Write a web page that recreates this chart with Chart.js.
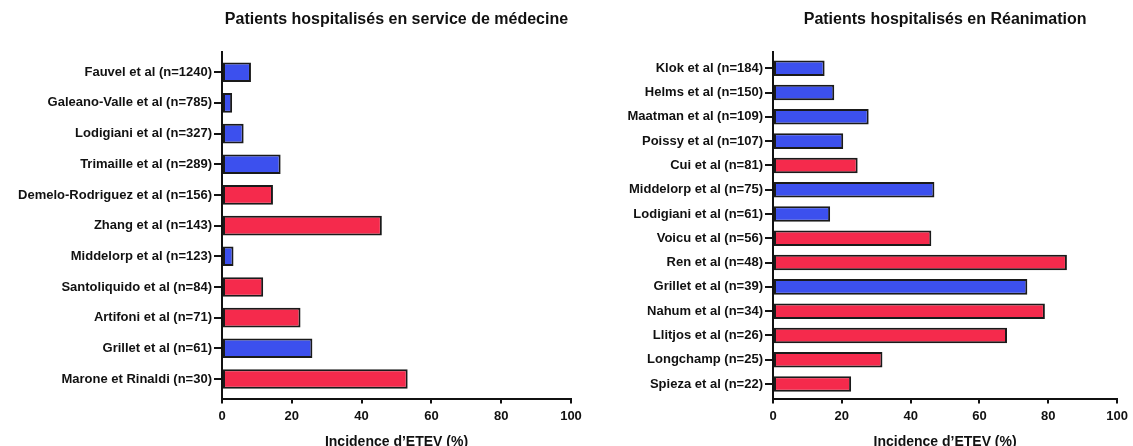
<!DOCTYPE html>
<html>
<head>
<meta charset="utf-8">
<script src="https://cdn.jsdelivr.net/npm/chart.js@4.4.1/dist/chart.umd.min.js"></script>
<style>
  body { margin: 0; background: #fff; width: 1133px; height: 446px; overflow: hidden; position: relative; }
  .box { position: absolute; top: 0; }
</style>
</head>
<body>
<div class="box" style="left:0px"><canvas id="left" width="600" height="451"></canvas></div>
<div class="box" style="left:600px"><canvas id="right" width="533" height="451"></canvas></div>
<script>
// left panel: medicine wards
const leftLabels = [
  "Fauvel et al (n=1240)",
  "Galeano-Valle et al (n=785)",
  "Lodigiani et al (n=327)",
  "Trimaille et al (n=289)",
  "Demelo-Rodriguez et al (n=156)",
  "Zhang et al (n=143)",
  "Middelorp et al (n=123)",
  "Santoliquido et al (n=84)",
  "Artifoni et al (n=71)",
  "Grillet et al (n=61)",
  "Marone et Rinaldi (n=30)",
];
const leftValues = [8.3, 2.9, 6.2, 16.8, 14.6, 45.8, 3.3, 11.8, 22.5, 25.9, 53.2];
const leftGroups = ["b", "b", "b", "b", "r", "r", "b", "r", "r", "b", "r"];

// right panel: ICU
const rightLabels = [
  "Klok et al (n=184)",
  "Helms et al (n=150)",
  "Maatman et al (n=109)",
  "Poissy et al (n=107)",
  "Cui et al (n=81)",
  "Middelorp et al (n=75)",
  "Lodigiani et al (n=61)",
  "Voicu et al (n=56)",
  "Ren et al (n=48)",
  "Grillet et al (n=39)",
  "Nahum et al (n=34)",
  "Llitjos et al (n=26)",
  "Longchamp (n=25)",
  "Spieza et al (n=22)",
];
const rightValues = [15.0, 17.8, 27.8, 20.4, 24.6, 46.9, 16.6, 46.0, 85.4, 73.9, 79.0, 68.0, 31.8, 22.7];
const rightGroups = ["b", "b", "b", "b", "r", "b", "b", "r", "r", "b", "r", "r", "r", "r"];

const xTitle = "Incidence d\u2019ETEV (%)";
const xMin = 0, xMax = 100, xStep = 20;

const GROUP_COLORS = { b: "#3c50ee", r: "#f52a4c" };

Chart.defaults.font.family = "'Liberation Sans', Arial, sans-serif";
Chart.defaults.font.weight = "bold";
Chart.defaults.color = "#111";

function makeChart(id, title, labels, values, groups, cfg) {
  const ctx = document.getElementById(id).getContext("2d");
  return new Chart(ctx, {
    type: "bar",
    data: {
      datasets: [{
        data: values.map((v, i) => ({ x: v, y: i })),
        backgroundColor: groups.map((g) => GROUP_COLORS[g]),
        borderColor: "#1a1a1a",
        borderWidth: 2,
        borderSkipped: false,
        categoryPercentage: 1,
        barPercentage: 0.64,
      }],
    },
    options: {
      indexAxis: "y",
      responsive: false,
      animation: false,
      layout: { padding: { top: 0, left: 0, right: cfg.padRight, bottom: 0 } },
      plugins: {
        legend: { display: false },
        tooltip: { enabled: false },
        title: {
          display: true,
          text: title,
          fullSize: false,
          color: "#111",
          font: { size: 16, weight: "bold" },
          padding: { top: 10.4, bottom: 22.4 },
        },
      },
      scales: {
        y: {
          type: "linear",
          reverse: true,
          offset: false,
          min: cfg.yMin,
          max: cfg.yMax,
          afterFit: (axis) => { axis.width = cfg.axisWidth; },
          afterBuildTicks: (axis) => { axis.ticks = labels.map((_, i) => ({ value: i })); },
          ticks: {
            autoSkip: false,
            padding: 2,
            color: "#111",
            font: { size: 13, weight: "bold" },
            callback: (v) => labels[v],
          },
          grid: { offset: false, drawOnChartArea: false, color: "#111", lineWidth: 2, tickLength: 8 },
          border: { display: true, color: "#111", width: 2 },
        },
        x: {
          type: "linear",
          min: xMin,
          max: xMax,
          ticks: { stepSize: xStep, padding: 5, color: "#111", font: { size: 13, weight: "bold" } },
          grid: { drawOnChartArea: false, color: "#111", lineWidth: 2, tickLength: 5 },
          border: { display: true, color: "#111", width: 2 },
          title: {
            display: true,
            text: xTitle,
            color: "#111",
            font: { size: 14, weight: "bold" },
            padding: { top: 5, bottom: 0 },
          },
        },
      },
    },
  });
}

makeChart("left", "Patients hospitalisés en service de médecine", leftLabels, leftValues, leftGroups,
  { axisWidth: 222, padRight: 29, yMin: -0.66, yMax: 10.64 });
makeChart("right", "Patients hospitalisés en Réanimation", rightLabels, rightValues, rightGroups,
  { axisWidth: 173, padRight: 12, yMin: -0.67, yMax: 13.6 });
</script>
</body>
</html>
